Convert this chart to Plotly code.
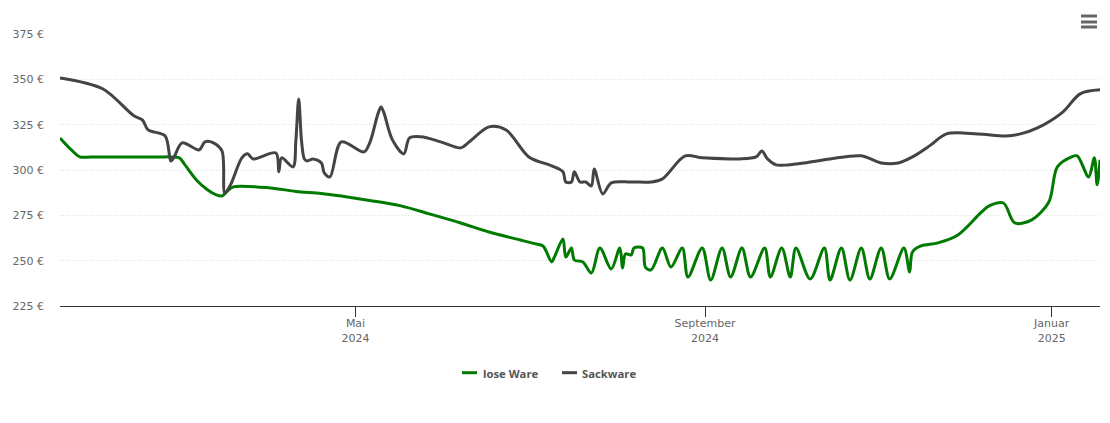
import pandas as pd
import plotly.graph_objects as go

# Price per tonne
lose = [
    ('2024-01-18', 317.7), ('2024-01-22', 311.1), ('2024-01-25', 307.2), ('2024-01-29', 307.2),
    ('2024-02-22', 307.2), ('2024-02-26', 307.2),
    ('2024-02-29', 306.7), ('2024-03-02', 302.8), ('2024-03-06', 294.5), ('2024-03-10', 289.0),
    ('2024-03-13', 286.3), ('2024-03-15', 285.7), ('2024-03-17', 288.5), ('2024-03-19', 290.7),
    ('2024-04-01', 290.1), ('2024-04-10', 288.2), ('2024-04-19', 287.1), ('2024-04-27', 285.4),
    ('2024-05-06', 283.2), ('2024-05-17', 280.2), ('2024-05-27', 275.8), ('2024-06-07', 270.8),
    ('2024-06-17', 265.8), ('2024-06-28', 261.4), ('2024-07-03', 259.4), ('2024-07-06', 258.1), ('2024-07-09', 249.3),
    ('2024-07-10', 252.0), ('2024-07-13', 262.0), ('2024-07-14', 252.0), ('2024-07-16', 257.0),
    ('2024-07-17', 250.4), ('2024-07-20', 249.3), ('2024-07-23', 243.2), ('2024-07-26', 257.0),
    ('2024-07-30', 245.4), ('2024-08-02', 257.0), ('2024-08-03', 246.0), ('2024-08-04', 253.7),
    ('2024-08-06', 253.1), ('2024-08-07', 257.0), ('2024-08-10', 257.0), ('2024-08-11', 246.5),
    ('2024-08-13', 244.9), ('2024-08-17', 257.0), ('2024-08-20', 246.5), ('2024-08-24', 257.0),
    ('2024-08-26', 241.0), ('2024-08-31', 257.0), ('2024-09-03', 239.3), ('2024-09-07', 257.0),
    ('2024-09-10', 241.0), ('2024-09-14', 257.0), ('2024-09-17', 241.0), ('2024-09-22', 257.0),
    ('2024-09-24', 241.0), ('2024-09-28', 257.0), ('2024-10-01', 241.0), ('2024-10-03', 257.0),
    ('2024-10-08', 239.9), ('2024-10-13', 257.0), ('2024-10-15', 239.3), ('2024-10-19', 257.0),
    ('2024-10-22', 239.3), ('2024-10-26', 257.0), ('2024-10-29', 239.9), ('2024-11-02', 257.0),
    ('2024-11-05', 239.9), ('2024-11-10', 257.0), ('2024-11-12', 243.8), ('2024-11-13', 254.8),
    ('2024-11-16', 258.1), ('2024-11-22', 259.8), ('2024-11-29', 264.2), ('2024-12-07', 276.3),
    ('2024-12-10', 280.2), ('2024-12-15', 281.8), ('2024-12-19', 270.8), ('2024-12-25', 272.5),
    ('2024-12-31', 282.4), ('2025-01-03', 301.7), ('2025-01-08', 307.2), ('2025-01-10', 307.8),
    ('2025-01-14', 296.2), ('2025-01-16', 306.7), ('2025-01-17', 291.8), ('2025-01-18', 305.6),
]

sack = [
    ('2024-01-18', 350.8), ('2024-02-02', 344.8), ('2024-02-13', 329.9), ('2024-02-16', 327.6),
    ('2024-02-18', 322.1), ('2024-02-24', 318.8), ('2024-02-26', 305.0), ('2024-02-27', 306.7),
    ('2024-03-01', 315.0), ('2024-03-07', 311.1), ('2024-03-09', 315.5), ('2024-03-12', 315.0),
    ('2024-03-15', 310.5), ('2024-03-16', 287.4), ('2024-03-18', 291.8), ('2024-03-22', 306.7),
    ('2024-03-24', 308.9), ('2024-03-26', 306.1), ('2024-04-03', 309.4), ('2024-04-04', 299.0),
    ('2024-04-05', 306.7), ('2024-04-09', 301.7), ('2024-04-10', 316.0), ('2024-04-11', 339.2),
    ('2024-04-12', 316.0), ('2024-04-13', 306.1), ('2024-04-14', 305.0), ('2024-04-16', 306.1), ('2024-04-19', 303.9),
    ('2024-04-20', 298.4), ('2024-04-22', 296.2), ('2024-04-26', 315.5), ('2024-05-04', 310.0),
    ('2024-05-06', 315.0), ('2024-05-09', 331.5), ('2024-05-10', 334.8), ('2024-05-11', 331.5),
    ('2024-05-14', 316.6), ('2024-05-18', 308.9),
    ('2024-05-20', 317.7), ('2024-05-24', 318.3), ('2024-05-31', 315.5), ('2024-06-07', 312.2),
    ('2024-06-10', 315.5), ('2024-06-17', 323.8), ('2024-06-23', 322.1), ('2024-07-01', 307.2),
    ('2024-07-09', 302.3), ('2024-07-13', 299.0), ('2024-07-14', 293.4), ('2024-07-16', 293.4),
    ('2024-07-17', 299.0), ('2024-07-19', 293.4), ('2024-07-21', 293.4), ('2024-07-23', 291.2),
    ('2024-07-24', 300.6), ('2024-07-27', 286.8), ('2024-07-30', 292.9), ('2024-08-06', 293.4),
    ('2024-08-13', 293.4), ('2024-08-17', 295.1), ('2024-08-25', 307.8), ('2024-08-31', 306.7),
    ('2024-09-10', 306.1), ('2024-09-13', 306.1), ('2024-09-19', 307.2), ('2024-09-21', 310.5),
    ('2024-09-23', 306.1), ('2024-09-26', 302.8), ('2024-09-30', 302.8), ('2024-10-06', 303.9),
    ('2024-10-15', 306.1), ('2024-10-26', 307.8), ('2024-11-02', 303.9), ('2024-11-08', 303.9),
    ('2024-11-13', 307.2), ('2024-11-19', 313.3), ('2024-11-25', 319.9), ('2024-12-06', 319.9),
    ('2024-12-16', 318.8), ('2024-12-21', 319.9), ('2024-12-27', 323.2), ('2025-01-05', 332.1),
    ('2025-01-11', 342.0), ('2025-01-18', 344.2),
]

lose_df = pd.DataFrame(lose, columns=['date', 'price'])
sack_df = pd.DataFrame(sack, columns=['date', 'price'])

green = '#007a00'
dark = '#434348'

fig = go.Figure()
fig.add_trace(go.Scatter(
    x=lose_df['date'], y=lose_df['price'], mode='lines', name='lose Ware',
    line=dict(color=green, width=3, shape='spline', smoothing=0.9),
))
fig.add_trace(go.Scatter(
    x=sack_df['date'], y=sack_df['price'], mode='lines', name='Sackware',
    line=dict(color=dark, width=3, shape='spline', smoothing=0.9),
))

# page has an 8px body margin, so margins are 8 less than the picture's
fig.update_layout(
    width=1092, height=398,
    margin=dict(l=52, r=0, t=26, b=100),
    paper_bgcolor='white', plot_bgcolor='white',
    font=dict(family='DejaVu Sans', size=11, color='#666666'),
    showlegend=False,
    xaxis=dict(
        range=['2024-01-18', '2025-01-18'],
        tickmode='array',
        tickvals=['2024-05-01', '2024-09-01', '2025-01-01'],
        ticktext=['Mai<br>2024', 'September<br>2024', 'Januar<br>2025'],
        showgrid=False, zeroline=False,
        showline=True, linecolor='#333333', linewidth=1,
        ticks='outside', ticklen=10, tickcolor='#333333', tickwidth=1,
        ticklabelstandoff=-3,
    ),
    yaxis=dict(
        range=[225, 375],
        tick0=225, dtick=25, ticksuffix=' €',
        showgrid=True, gridcolor='#dddddd', gridwidth=1, griddash='1px,2px',
        zeroline=False, showline=False, ticks='',
        ticklabelstandoff=15,
    ),
)

def px_x(px):
    return (px - 60) / 1040

def px_y(py):
    return (306 - py) / 272

# Legend below the plot, short keys
for name, color, x0, x1, text_x in [('lose Ware', green, 462, 477, 482), ('Sackware', dark, 562, 577, 581)]:
    fig.add_shape(
        type='line', xref='paper', yref='paper',
        x0=px_x(x0), x1=px_x(x1), y0=px_y(372.7), y1=px_y(372.7),
        line=dict(color=color, width=3),
    )
    fig.add_annotation(
        text=f'<b>{name}</b>', xref='paper', yref='paper',
        x=px_x(text_x), y=px_y(373), xanchor='left', yanchor='middle',
        showarrow=False, xshift=-1,
        font=dict(family='Open Sans', size=11.3, color='#555555'),
    )

# Menu icon top right
for py in (16, 22, 27):
    fig.add_shape(
        type='line', xref='paper', yref='paper',
        x0=px_x(1081), x1=px_x(1097), y0=px_y(py), y1=px_y(py),
        line=dict(color='#666666', width=3),
    )

fig.write_html("out.html")
